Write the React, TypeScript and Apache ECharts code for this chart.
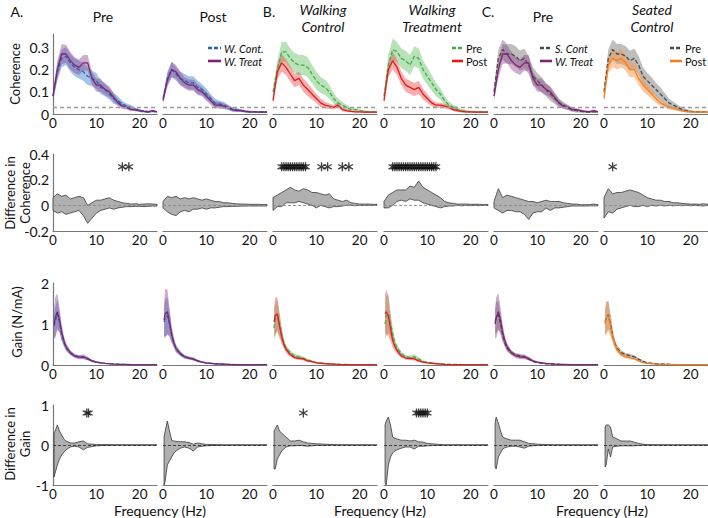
import React, { useEffect, useRef } from "react";
import * as echarts from "echarts";

// ---------------- DATA ----------------
const FREQ_C = [0, 1, 2, 3, 4, 5, 6, 7, 8, 9, 10, 11, 12, 13, 14, 15, 16, 17, 18, 19, 20, 21, 22, 23, 24];
const FREQ_G = [0.25, 0.5, 1, 1.5, 2, 2.5, 3, 4, 5, 6, 7, 8, 9, 10, 12, 14, 16, 18, 20, 22, 24];

const X_TICKS = [0, 10, 20];
const Y_TICKS_COH = [0, 0.1, 0.2, 0.3];
const Y_TICKS_DCOH = [-0.2, 0, 0.2, 0.4];
const Y_TICKS_GAIN = [0, 1, 2];
const Y_TICKS_DGAIN = [-1, 0, 1];

const COH_SIG_LEVEL = 0.03;
const STAR_Y_DCOH = 0.3;
const STAR_Y_DGAIN = 0.8;

// Row 1 – coherence (mean / sd)
const cohPreWCont = [0.08, 0.19, 0.25, 0.26, 0.23, 0.21, 0.2, 0.19, 0.17, 0.16, 0.15, 0.12, 0.11, 0.09, 0.07, 0.06, 0.045, 0.035, 0.03, 0.02, 0.015, 0.012, 0.01, 0.012, 0.01];
const cohPreWContSd = [0.02, 0.04, 0.04, 0.04, 0.04, 0.04, 0.04, 0.04, 0.04, 0.035, 0.035, 0.03, 0.03, 0.025, 0.025, 0.02, 0.015, 0.012, 0.01, 0.008, 0.006, 0.005, 0.005, 0.005, 0.004];
const cohPreWTreat = [0.08, 0.2, 0.27, 0.27, 0.24, 0.22, 0.21, 0.23, 0.23, 0.16, 0.13, 0.13, 0.11, 0.1, 0.075, 0.05, 0.035, 0.03, 0.02, 0.02, 0.015, 0.012, 0.01, 0.015, 0.01];
const cohPreWTreatSd = [0.02, 0.04, 0.045, 0.04, 0.04, 0.035, 0.035, 0.035, 0.035, 0.03, 0.03, 0.03, 0.025, 0.025, 0.02, 0.015, 0.012, 0.01, 0.008, 0.007, 0.006, 0.005, 0.005, 0.005, 0.004];
const cohPostWCont = [0.07, 0.16, 0.2, 0.18, 0.16, 0.15, 0.14, 0.14, 0.12, 0.11, 0.09, 0.07, 0.05, 0.045, 0.04, 0.03, 0.02, 0.02, 0.015, 0.012, 0.01, 0.01, 0.01, 0.008, 0.008];
const cohPostWContSd = [0.015, 0.03, 0.035, 0.03, 0.03, 0.03, 0.03, 0.03, 0.03, 0.025, 0.025, 0.02, 0.02, 0.015, 0.015, 0.012, 0.01, 0.008, 0.006, 0.005, 0.005, 0.004, 0.004, 0.004, 0.004];
const cohPostWTreat = [0.06, 0.15, 0.2, 0.19, 0.16, 0.14, 0.13, 0.13, 0.11, 0.1, 0.08, 0.06, 0.04, 0.04, 0.035, 0.03, 0.02, 0.015, 0.015, 0.012, 0.01, 0.01, 0.008, 0.01, 0.008];
const cohPostWTreatSd = [0.015, 0.03, 0.035, 0.03, 0.03, 0.025, 0.025, 0.025, 0.025, 0.02, 0.02, 0.02, 0.015, 0.015, 0.012, 0.01, 0.008, 0.007, 0.006, 0.005, 0.005, 0.004, 0.004, 0.004, 0.004];
const cohWCtrlPre = [0.1, 0.2, 0.28, 0.28, 0.25, 0.23, 0.22, 0.22, 0.21, 0.18, 0.15, 0.13, 0.12, 0.1, 0.07, 0.05, 0.04, 0.03, 0.02, 0.02, 0.015, 0.012, 0.01, 0.01, 0.01];
const cohWCtrlPreSd = [0.02, 0.04, 0.045, 0.045, 0.045, 0.045, 0.045, 0.045, 0.045, 0.04, 0.04, 0.035, 0.035, 0.03, 0.025, 0.02, 0.015, 0.012, 0.01, 0.008, 0.006, 0.005, 0.005, 0.005, 0.004];
const cohWCtrlPost = [0.06, 0.19, 0.23, 0.21, 0.18, 0.15, 0.16, 0.13, 0.11, 0.09, 0.07, 0.05, 0.04, 0.035, 0.03, 0.04, 0.02, 0.015, 0.012, 0.01, 0.01, 0.008, 0.008, 0.008, 0.008];
const cohWCtrlPostSd = [0.015, 0.035, 0.04, 0.035, 0.035, 0.03, 0.03, 0.03, 0.03, 0.025, 0.02, 0.02, 0.015, 0.012, 0.01, 0.012, 0.008, 0.006, 0.005, 0.004, 0.004, 0.004, 0.004, 0.004, 0.004];
const cohWTrtPre = [0.08, 0.22, 0.29, 0.28, 0.25, 0.24, 0.22, 0.26, 0.25, 0.2, 0.17, 0.14, 0.11, 0.09, 0.06, 0.04, 0.03, 0.02, 0.015, 0.012, 0.01, 0.01, 0.01, 0.01, 0.01];
const cohWTrtPreSd = [0.02, 0.045, 0.05, 0.045, 0.045, 0.045, 0.045, 0.045, 0.045, 0.04, 0.04, 0.035, 0.03, 0.025, 0.02, 0.015, 0.012, 0.01, 0.008, 0.006, 0.005, 0.005, 0.005, 0.004, 0.004];
const cohWTrtPost = [0.06, 0.2, 0.24, 0.21, 0.16, 0.13, 0.12, 0.11, 0.12, 0.09, 0.07, 0.05, 0.04, 0.04, 0.035, 0.03, 0.02, 0.015, 0.012, 0.01, 0.01, 0.008, 0.008, 0.008, 0.008];
const cohWTrtPostSd = [0.015, 0.035, 0.04, 0.035, 0.03, 0.03, 0.03, 0.03, 0.03, 0.025, 0.02, 0.015, 0.012, 0.012, 0.01, 0.01, 0.008, 0.006, 0.005, 0.004, 0.004, 0.004, 0.004, 0.004, 0.004];
const cohSCtrlPre = [0.1, 0.25, 0.29, 0.27, 0.27, 0.26, 0.24, 0.25, 0.22, 0.17, 0.15, 0.13, 0.11, 0.09, 0.07, 0.05, 0.04, 0.03, 0.02, 0.015, 0.012, 0.01, 0.01, 0.01, 0.01];
const cohSCtrlPreSd = [0.02, 0.04, 0.045, 0.045, 0.045, 0.045, 0.045, 0.045, 0.04, 0.04, 0.035, 0.035, 0.03, 0.03, 0.025, 0.02, 0.015, 0.012, 0.01, 0.008, 0.006, 0.005, 0.005, 0.005, 0.004];
const cohSCtrlPost = [0.07, 0.22, 0.25, 0.24, 0.25, 0.23, 0.2, 0.2, 0.16, 0.13, 0.11, 0.09, 0.07, 0.05, 0.04, 0.03, 0.025, 0.02, 0.015, 0.012, 0.01, 0.01, 0.008, 0.01, 0.008];
const cohSCtrlPostSd = [0.015, 0.035, 0.04, 0.04, 0.04, 0.035, 0.035, 0.035, 0.03, 0.03, 0.025, 0.02, 0.02, 0.015, 0.012, 0.01, 0.008, 0.006, 0.005, 0.005, 0.004, 0.004, 0.004, 0.004, 0.004];

// Row 2 – difference in coherence (upper / lower bounds)
const dcohPreUp = [0.06, 0.09, 0.07, 0.08, 0.05, 0.06, 0.07, 0.06, 0.0, 0.02, 0.04, 0.04, 0.05, 0.06, 0.04, 0.03, 0.02, 0.015, 0.01, 0.012, 0.008, 0.01, 0.012, 0.01, 0.008];
const dcohPreLo = [-0.04, -0.06, -0.05, -0.07, -0.06, -0.05, -0.04, -0.08, -0.14, -0.1, -0.06, -0.04, -0.03, -0.02, -0.03, -0.02, -0.015, -0.01, -0.01, -0.008, -0.008, -0.01, -0.008, -0.006, -0.006];
const dcohPostUp = [0.03, 0.07, 0.06, 0.07, 0.05, 0.06, 0.05, 0.06, 0.05, 0.04, 0.05, 0.04, 0.03, 0.03, 0.02, 0.02, 0.015, 0.012, 0.01, 0.01, 0.008, 0.008, 0.008, 0.006, 0.006];
const dcohPostLo = [-0.02, -0.05, -0.07, -0.08, -0.05, -0.04, -0.05, -0.03, -0.03, -0.02, -0.03, -0.02, -0.02, -0.015, -0.01, -0.01, -0.008, -0.008, -0.006, -0.006, -0.005, -0.006, -0.005, -0.005, -0.005];
const dcohWCtrlUp = [0.06, 0.08, 0.1, 0.12, 0.14, 0.12, 0.11, 0.13, 0.12, 0.1, 0.1, 0.09, 0.08, 0.09, 0.05, 0.04, 0.03, 0.04, 0.02, 0.015, 0.01, 0.01, 0.01, 0.008, 0.008];
const dcohWCtrlLo = [-0.04, -0.01, -0.01, 0.02, 0.02, 0.02, 0.03, 0.02, 0.01, 0.0, -0.02, 0.0, -0.01, -0.02, -0.01, -0.01, -0.005, 0.0, 0.0, -0.003, 0.0, -0.002, 0.0, -0.002, 0.0];
const dcohWTrtUp = [0.03, 0.08, 0.1, 0.12, 0.12, 0.12, 0.15, 0.14, 0.19, 0.14, 0.12, 0.1, 0.08, 0.06, 0.03, 0.02, 0.015, 0.01, 0.01, 0.01, 0.008, 0.008, 0.008, 0.006, 0.006];
const dcohWTrtLo = [-0.02, -0.02, 0.0, 0.03, 0.04, 0.03, 0.05, 0.04, 0.04, 0.02, 0.01, 0.0, -0.01, -0.02, -0.01, -0.005, -0.005, 0.0, -0.004, 0.0, -0.003, 0.0, -0.003, 0.0, -0.002];
const dcohCPreUp = [0.03, 0.13, 0.06, 0.08, 0.07, 0.06, 0.05, 0.04, 0.03, 0.03, 0.02, 0.03, 0.04, 0.03, 0.03, 0.03, 0.02, 0.015, 0.01, 0.01, 0.005, 0.005, 0.005, 0.01, 0.005];
const dcohCPreLo = [-0.02, -0.04, -0.06, -0.04, -0.04, -0.05, -0.05, -0.07, -0.11, -0.06, -0.05, -0.05, -0.02, -0.04, -0.02, -0.02, -0.015, -0.01, -0.005, -0.005, -0.005, -0.005, -0.004, -0.004, -0.004];
const dcohSeatUp = [0.06, 0.13, 0.09, 0.1, 0.1, 0.11, 0.12, 0.11, 0.1, 0.08, 0.06, 0.05, 0.04, 0.04, 0.03, 0.03, 0.02, 0.02, 0.015, 0.012, 0.01, 0.01, 0.008, 0.012, 0.008];
const dcohSeatLo = [-0.1, -0.05, -0.06, -0.03, -0.02, -0.01, 0.0, -0.01, -0.01, 0.0, -0.01, 0.0, -0.005, 0.0, -0.005, 0.0, -0.004, 0.0, -0.003, 0.0, -0.003, 0.0, -0.003, -0.005, 0.0];

const starDcohPre = [16, 17.5];
const starDcohPost: number[] = [];
const starDcohWCtrl = [2, 2.5, 3, 3.5, 4, 4.5, 5, 5.5, 6, 6.5, 7, 7.5, 11.2, 12.6, 16, 17.5];
const starDcohWTrt = [2, 2.5, 3, 3.5, 4, 4.5, 5, 5.5, 6, 6.5, 7, 7.5, 8, 8.5, 9, 9.5, 10, 10.5, 11, 11.5, 12];
const starDcohCPre: number[] = [];
const starDcohSeat = [2];

// Row 3 – gain (mean / sd)
const gainPreWCont = [0.95, 1.05, 1.25, 1.05, 0.75, 0.55, 0.42, 0.3, 0.22, 0.2, 0.19, 0.14, 0.1, 0.07, 0.04, 0.025, 0.015, 0.01, 0.01, 0.01, 0.01];
const gainPreWContSd = [0.3, 0.35, 0.35, 0.25, 0.15, 0.1, 0.08, 0.05, 0.04, 0.04, 0.04, 0.03, 0.02, 0.02, 0.01, 0.01, 0.008, 0.005, 0.005, 0.005, 0.005];
const gainPreWTreat = [1.0, 1.15, 1.3, 1.1, 0.8, 0.6, 0.45, 0.3, 0.22, 0.19, 0.2, 0.16, 0.1, 0.07, 0.04, 0.02, 0.015, 0.01, 0.01, 0.01, 0.01];
const gainPreWTreatSd = [0.35, 0.5, 0.45, 0.3, 0.2, 0.12, 0.09, 0.06, 0.05, 0.05, 0.06, 0.04, 0.03, 0.02, 0.01, 0.01, 0.008, 0.005, 0.005, 0.005, 0.005];
const gainPostWCont = [1.05, 1.15, 1.2, 1.0, 0.72, 0.53, 0.4, 0.27, 0.2, 0.17, 0.14, 0.1, 0.07, 0.05, 0.03, 0.02, 0.012, 0.01, 0.01, 0.008, 0.008];
const gainPostWContSd = [0.35, 0.45, 0.45, 0.3, 0.18, 0.1, 0.08, 0.05, 0.04, 0.03, 0.03, 0.02, 0.015, 0.012, 0.01, 0.008, 0.005, 0.005, 0.005, 0.005, 0.005];
const gainPostWTreat = [1.1, 1.25, 1.3, 1.05, 0.75, 0.55, 0.4, 0.28, 0.2, 0.17, 0.15, 0.1, 0.07, 0.05, 0.03, 0.02, 0.01, 0.01, 0.008, 0.008, 0.008];
const gainPostWTreatSd = [0.4, 0.6, 0.55, 0.35, 0.2, 0.12, 0.09, 0.06, 0.04, 0.04, 0.04, 0.03, 0.02, 0.015, 0.01, 0.008, 0.005, 0.005, 0.005, 0.005, 0.005];
const gainWCtrlPre = [0.9, 1.1, 1.2, 1.0, 0.75, 0.55, 0.42, 0.3, 0.22, 0.2, 0.16, 0.12, 0.09, 0.06, 0.04, 0.02, 0.015, 0.01, 0.01, 0.01, 0.01];
const gainWCtrlPreSd = [0.3, 0.4, 0.4, 0.3, 0.18, 0.1, 0.08, 0.05, 0.05, 0.05, 0.04, 0.03, 0.02, 0.015, 0.01, 0.008, 0.005, 0.005, 0.005, 0.005, 0.005];
const gainWCtrlPost = [1.05, 1.2, 1.25, 0.95, 0.7, 0.5, 0.38, 0.25, 0.18, 0.16, 0.15, 0.1, 0.08, 0.05, 0.03, 0.02, 0.01, 0.01, 0.008, 0.008, 0.008];
const gainWCtrlPostSd = [0.35, 0.45, 0.4, 0.3, 0.18, 0.1, 0.08, 0.05, 0.04, 0.04, 0.04, 0.03, 0.02, 0.015, 0.01, 0.008, 0.005, 0.005, 0.005, 0.005, 0.005];
const gainWTrtPre = [1.0, 1.2, 1.25, 1.0, 0.75, 0.55, 0.42, 0.28, 0.2, 0.18, 0.2, 0.15, 0.09, 0.06, 0.04, 0.02, 0.015, 0.01, 0.01, 0.01, 0.01];
const gainWTrtPreSd = [0.35, 0.5, 0.45, 0.3, 0.18, 0.1, 0.08, 0.05, 0.04, 0.05, 0.06, 0.04, 0.02, 0.015, 0.01, 0.008, 0.005, 0.005, 0.005, 0.005, 0.005];
const gainWTrtPost = [1.25, 1.3, 1.2, 0.9, 0.6, 0.45, 0.35, 0.22, 0.17, 0.16, 0.15, 0.1, 0.07, 0.05, 0.03, 0.015, 0.01, 0.01, 0.008, 0.008, 0.008];
const gainWTrtPostSd = [0.45, 0.55, 0.5, 0.3, 0.18, 0.1, 0.08, 0.05, 0.04, 0.04, 0.04, 0.03, 0.02, 0.015, 0.01, 0.008, 0.005, 0.005, 0.005, 0.005, 0.005];
const gainSCtrlPre = [1.05, 1.15, 1.22, 1.0, 0.72, 0.53, 0.41, 0.3, 0.25, 0.23, 0.2, 0.14, 0.09, 0.055, 0.03, 0.02, 0.012, 0.01, 0.01, 0.01, 0.01];
const gainSCtrlPreSd = [0.3, 0.38, 0.35, 0.25, 0.15, 0.1, 0.08, 0.055, 0.045, 0.045, 0.04, 0.03, 0.02, 0.015, 0.01, 0.008, 0.005, 0.005, 0.005, 0.005, 0.005];
const gainSCtrlPost = [1.0, 1.15, 1.2, 0.95, 0.7, 0.5, 0.38, 0.25, 0.2, 0.18, 0.15, 0.1, 0.06, 0.04, 0.02, 0.015, 0.01, 0.008, 0.008, 0.008, 0.008];
const gainSCtrlPostSd = [0.3, 0.4, 0.35, 0.25, 0.15, 0.1, 0.07, 0.05, 0.04, 0.04, 0.03, 0.02, 0.015, 0.01, 0.008, 0.005, 0.005, 0.005, 0.005, 0.005, 0.005];

// Row 4 – difference in gain (upper / lower bounds)
const dgainPreUp = [0.3, 0.35, 0.5, 0.35, 0.25, 0.15, 0.1, 0.05, 0.05, 0.08, 0.1, 0.03, 0.02, 0.01, 0.01, 0.008, 0.005, 0.005, 0.004, 0.004, 0.004];
const dgainPreLo = [-0.8, -0.7, -0.5, -0.35, -0.25, -0.18, -0.12, -0.05, -0.03, -0.05, -0.12, -0.06, -0.04, -0.02, -0.01, -0.008, -0.005, -0.005, -0.004, -0.004, -0.004];
const dgainPostUp = [0.2, 0.35, 0.6, 0.35, 0.12, 0.1, 0.09, 0.08, 0.08, 0.06, 0.02, 0.05, 0.03, 0.015, 0.01, 0.005, 0.005, 0.004, 0.004, 0.004, 0.004];
const dgainPostLo = [-1.0, -0.9, -0.5, -0.4, -0.3, -0.2, -0.15, -0.08, -0.05, -0.08, -0.15, -0.05, -0.03, -0.02, -0.01, -0.008, -0.005, -0.005, -0.004, -0.004, -0.004];
const dgainWCtrlUp = [0.35, 0.4, 0.5, 0.35, 0.3, 0.25, 0.2, 0.1, 0.1, 0.12, 0.08, 0.05, 0.04, 0.03, 0.02, 0.01, 0.005, 0.005, 0.004, 0.004, 0.004];
const dgainWCtrlLo = [-0.6, -0.6, -0.35, -0.25, -0.15, -0.1, -0.05, -0.02, -0.02, -0.01, -0.02, -0.03, -0.02, -0.01, -0.01, -0.005, -0.004, -0.004, -0.004, -0.004, -0.004];
const dgainWTrtUp = [0.5, 0.6, 0.7, 0.5, 0.2, 0.17, 0.15, 0.12, 0.12, 0.1, 0.12, 0.08, 0.07, 0.04, 0.02, 0.005, 0.005, 0.004, 0.004, 0.004, 0.004];
const dgainWTrtLo = [-0.95, -1.0, -0.5, -0.3, -0.2, -0.15, -0.12, -0.08, -0.05, -0.05, -0.1, -0.03, -0.03, -0.02, -0.01, -0.005, -0.004, -0.004, -0.004, -0.004, -0.004];
const dgainCPreUp = [0.55, 0.7, 0.55, 0.35, 0.2, 0.17, 0.15, 0.12, 0.12, 0.12, 0.08, 0.04, 0.03, 0.02, 0.01, 0.005, 0.005, 0.004, 0.004, 0.004, 0.004];
const dgainCPreLo = [-0.55, -0.6, -0.3, -0.2, -0.1, -0.07, -0.05, -0.03, -0.03, -0.05, -0.08, -0.03, -0.02, -0.01, -0.005, -0.004, -0.004, -0.004, -0.004, -0.004, -0.004];
const dgainSeatUp = [0.45, 0.5, 0.5, 0.45, 0.2, 0.18, 0.15, 0.1, 0.1, 0.1, 0.07, 0.04, 0.02, 0.01, 0.005, 0.005, 0.004, 0.004, 0.004, 0.004, 0.004];
const dgainSeatLo = [-0.55, -0.5, -0.1, -0.3, -0.05, -0.04, -0.03, -0.02, -0.02, -0.02, -0.02, -0.01, -0.008, -0.005, -0.004, -0.004, -0.004, -0.004, -0.004, -0.004, -0.004];

const starDgainPre = [7.8, 8.2];
const starDgainPost: number[] = [];
const starDgainWCtrl = [7];
const starDgainWTrt = [7.5, 8, 8.5, 9, 9.5, 10];
const starDgainCPre: number[] = [];
const starDgainSeat: number[] = [];

// ---------------- STYLE / LAYOUT ----------------
const FONT = 'Lato, "Open Sans", sans-serif';
const C_BLUE = "#2563ad", F_BLUE = "rgba(74,140,210,0.5)";
const C_PURPLE = "#7b2573", F_PURPLE = "rgba(140,60,135,0.42)";
const C_GREEN = "#3fae49", F_GREEN = "rgba(100,190,100,0.45)";
const C_RED = "#e31a1c", F_RED = "rgba(235,75,75,0.45)";
const C_GRAY = "#4a4a4a", F_GRAY = "rgba(100,100,100,0.42)";
const C_ORANGE = "#f47f20", F_ORANGE = "rgba(247,150,70,0.5)";
const F_DIFF = "#b0b0b0";

const COL_LEFT = [53, 163, 273, 384, 494, 604];
const COL_W = 104;
const ROW_BOX = [
  [34, 80],
  [154, 77],
  [283, 82],
  [405, 80],
];

type Grp = { m: number[]; s: number[]; c: string; f: string; dashed: boolean };

const cohPanels: Grp[][] = [
  [
    { m: cohPreWCont, s: cohPreWContSd, c: C_BLUE, f: F_BLUE, dashed: true },
    { m: cohPreWTreat, s: cohPreWTreatSd, c: C_PURPLE, f: F_PURPLE, dashed: false },
  ],
  [
    { m: cohPostWCont, s: cohPostWContSd, c: C_BLUE, f: F_BLUE, dashed: true },
    { m: cohPostWTreat, s: cohPostWTreatSd, c: C_PURPLE, f: F_PURPLE, dashed: false },
  ],
  [
    { m: cohWCtrlPre, s: cohWCtrlPreSd, c: C_GREEN, f: F_GREEN, dashed: true },
    { m: cohWCtrlPost, s: cohWCtrlPostSd, c: C_RED, f: F_RED, dashed: false },
  ],
  [
    { m: cohWTrtPre, s: cohWTrtPreSd, c: C_GREEN, f: F_GREEN, dashed: true },
    { m: cohWTrtPost, s: cohWTrtPostSd, c: C_RED, f: F_RED, dashed: false },
  ],
  [
    { m: cohSCtrlPre, s: cohSCtrlPreSd, c: C_GRAY, f: F_GRAY, dashed: true },
    { m: cohPreWTreat, s: cohPreWTreatSd, c: C_PURPLE, f: F_PURPLE, dashed: false },
  ],
  [
    { m: cohSCtrlPre, s: cohSCtrlPreSd, c: C_GRAY, f: F_GRAY, dashed: true },
    { m: cohSCtrlPost, s: cohSCtrlPostSd, c: C_ORANGE, f: F_ORANGE, dashed: false },
  ],
];

const gainPanels: Grp[][] = [
  [
    { m: gainPreWCont, s: gainPreWContSd, c: C_BLUE, f: F_BLUE, dashed: true },
    { m: gainPreWTreat, s: gainPreWTreatSd, c: C_PURPLE, f: F_PURPLE, dashed: false },
  ],
  [
    { m: gainPostWCont, s: gainPostWContSd, c: C_BLUE, f: F_BLUE, dashed: true },
    { m: gainPostWTreat, s: gainPostWTreatSd, c: C_PURPLE, f: F_PURPLE, dashed: false },
  ],
  [
    { m: gainWCtrlPre, s: gainWCtrlPreSd, c: C_GREEN, f: F_GREEN, dashed: true },
    { m: gainWCtrlPost, s: gainWCtrlPostSd, c: C_RED, f: F_RED, dashed: false },
  ],
  [
    { m: gainWTrtPre, s: gainWTrtPreSd, c: C_GREEN, f: F_GREEN, dashed: true },
    { m: gainWTrtPost, s: gainWTrtPostSd, c: C_RED, f: F_RED, dashed: false },
  ],
  [
    { m: gainSCtrlPre, s: gainSCtrlPreSd, c: C_GRAY, f: F_GRAY, dashed: true },
    { m: gainPreWTreat, s: gainPreWTreatSd, c: C_PURPLE, f: F_PURPLE, dashed: false },
  ],
  [
    { m: gainSCtrlPre, s: gainSCtrlPreSd, c: C_GRAY, f: F_GRAY, dashed: true },
    { m: gainSCtrlPost, s: gainSCtrlPostSd, c: C_ORANGE, f: F_ORANGE, dashed: false },
  ],
];

const dcohPanels = [
  { up: dcohPreUp, lo: dcohPreLo, stars: starDcohPre },
  { up: dcohPostUp, lo: dcohPostLo, stars: starDcohPost },
  { up: dcohWCtrlUp, lo: dcohWCtrlLo, stars: starDcohWCtrl },
  { up: dcohWTrtUp, lo: dcohWTrtLo, stars: starDcohWTrt },
  { up: dcohCPreUp, lo: dcohCPreLo, stars: starDcohCPre },
  { up: dcohSeatUp, lo: dcohSeatLo, stars: starDcohSeat },
];
const dgainPanels = [
  { up: dgainPreUp, lo: dgainPreLo, stars: starDgainPre },
  { up: dgainPostUp, lo: dgainPostLo, stars: starDgainPost },
  { up: dgainWCtrlUp, lo: dgainWCtrlLo, stars: starDgainWCtrl },
  { up: dgainWTrtUp, lo: dgainWTrtLo, stars: starDgainWTrt },
  { up: dgainCPreUp, lo: dgainCPreLo, stars: starDgainCPre },
  { up: dgainSeatUp, lo: dgainSeatLo, stars: starDgainSeat },
];

const ASTERISK =
  "path://M-1.4,-10L1.4,-10L1.4,-2.4L8,-6.3L9.4,-3.9L2.8,0L9.4,3.9L8,6.3L1.4,2.4L1.4,10L-1.4,10L-1.4,2.4L-8,6.3L-9.4,3.9L-2.8,0L-9.4,-3.9L-8,-6.3L-1.4,-2.4Z";

function labelFmt(list: number[]) {
  return (v: number) => {
    const r = Math.round(v * 1000) / 1000;
    return list.some((l) => Math.abs(l - r) < 1e-6) ? String(r) : "";
  };
}

function bandSeries(gi: number, xs: number[], lo: number[], hi: number[], fill: string, stroke?: string) {
  return {
    type: "custom",
    xAxisIndex: gi,
    yAxisIndex: gi,
    silent: true,
    z: 1,
    data: [[xs[0], lo[0]]],
    renderItem: (_p: any, api: any) => {
      const pts: number[][] = [];
      for (let i = 0; i < xs.length; i++) pts.push(api.coord([xs[i], hi[i]]));
      for (let i = xs.length - 1; i >= 0; i--) pts.push(api.coord([xs[i], lo[i]]));
      const style: any = { fill };
      if (stroke) {
        style.stroke = stroke;
        style.lineWidth = 0.8;
      }
      return { type: "polygon", shape: { points: pts }, style };
    },
  };
}

function lineSeries(gi: number, xs: number[], ys: number[], color: string, dashed: boolean) {
  return {
    type: "line",
    xAxisIndex: gi,
    yAxisIndex: gi,
    silent: true,
    symbol: "none",
    z: dashed ? 2 : 3,
    data: xs.map((x, i) => [x, ys[i]]),
    lineStyle: { color, width: 1.3, type: dashed ? [4, 2] : "solid" },
  };
}

function refLine(gi: number, y: number, color: string, width: number, dash: number[]) {
  return {
    type: "line",
    xAxisIndex: gi,
    yAxisIndex: gi,
    silent: true,
    symbol: "none",
    data: [],
    z: 2,
    markLine: {
      silent: true,
      symbol: "none",
      animation: false,
      label: { show: false },
      lineStyle: { color, width, type: dash },
      data: [{ yAxis: y }],
    },
  };
}

function starSeries(gi: number, xs: number[], y: number) {
  return {
    type: "scatter",
    xAxisIndex: gi,
    yAxisIndex: gi,
    silent: true,
    symbol: ASTERISK,
    symbolSize: 9,
    z: 5,
    itemStyle: { color: "#111" },
    data: xs.map((x) => [x, y]),
  };
}

function txt(text: string, x: number, y: number, opts: any = {}) {
  const { size = 14, italic = false, rot = 0, align = "center" } = opts;
  return {
    type: "text",
    x,
    y,
    rotation: rot,
    silent: true,
    style: {
      text,
      fill: "#111",
      fontSize: size,
      fontFamily: FONT,
      fontStyle: italic ? "italic" : "normal",
      align,
      verticalAlign: "middle",
      textAlign: align,
      textVerticalAlign: "middle",
    },
  };
}

function legendItem(x1: number, x2: number, y: number, color: string, dashed: boolean, label: string, italic: boolean) {
  return [
    {
      type: "line",
      silent: true,
      shape: { x1, y1: y, x2, y2: y },
      style: { stroke: color, lineWidth: 2.6, lineDash: dashed ? [4, 2] : null },
    },
    txt(label, x2 + 3, y, { size: 11, italic, align: "left" }),
  ];
}

function buildOption() {
  const grid: any[] = [];
  const xAxis: any[] = [];
  const yAxis: any[] = [];
  const series: any[] = [];
  const yCfg = [
    { min: 0, max: 0.36, interval: 0.1, ticks: Y_TICKS_COH },
    { min: -0.2, max: 0.4, interval: 0.2, ticks: Y_TICKS_DCOH },
    { min: 0, max: 2, interval: 1, ticks: Y_TICKS_GAIN },
    { min: -1, max: 1, interval: 1, ticks: Y_TICKS_DGAIN },
  ];
  for (let r = 0; r < 4; r++) {
    for (let c = 0; c < 6; c++) {
      const gi = r * 6 + c;
      grid.push({ left: COL_LEFT[c], top: ROW_BOX[r][0], width: COL_W, height: ROW_BOX[r][1] });
      xAxis.push({
        gridIndex: gi,
        type: "value",
        min: 0,
        max: 24,
        interval: 10,
        axisLine: { onZero: false, lineStyle: { color: "#777", width: 1.2 } },
        axisTick: { show: false },
        splitLine: { show: false },
        axisLabel: {
          customValues: X_TICKS,
          formatter: labelFmt(X_TICKS),
          fontSize: 13.5,
          fontFamily: FONT,
          color: "#111",
          margin: 2,
        },
      });
      const yc = yCfg[r];
      yAxis.push({
        gridIndex: gi,
        type: "value",
        min: yc.min,
        max: yc.max,
        interval: yc.interval,
        show: c === 0,
        axisLine: { show: true, lineStyle: { color: "#777", width: 1.2 } },
        axisTick: { show: false },
        splitLine: { show: false },
        axisLabel: {
          customValues: yc.ticks,
          formatter: labelFmt(yc.ticks),
          fontSize: 14,
          fontFamily: FONT,
          color: "#111",
          margin: 4,
        },
      });
    }
  }

  // Row 1: coherence
  cohPanels.forEach((grps, c) => {
    const gi = c;
    grps.forEach((g) => {
      const lo = g.m.map((v, i) => Math.max(0, v - g.s[i]));
      const hi = g.m.map((v, i) => v + g.s[i]);
      series.push(bandSeries(gi, FREQ_C, lo, hi, g.f));
    });
    series.push(refLine(gi, COH_SIG_LEVEL, "#9a9a9a", 1.3, [4, 3]));
    grps.forEach((g) => series.push(lineSeries(gi, FREQ_C, g.m, g.c, g.dashed)));
  });

  // Row 2: difference in coherence
  dcohPanels.forEach((p, c) => {
    const gi = 6 + c;
    series.push(bandSeries(gi, FREQ_C, p.lo, p.up, F_DIFF, "#3a3a3a"));
    series.push(refLine(gi, 0, "#8a8a8a", 0.9, [3, 2]));
    if (p.stars.length) series.push(starSeries(gi, p.stars, STAR_Y_DCOH));
  });

  // Row 3: gain
  gainPanels.forEach((grps, c) => {
    const gi = 12 + c;
    grps.forEach((g) => {
      const lo = g.m.map((v, i) => Math.max(0, v - g.s[i]));
      const hi = g.m.map((v, i) => v + g.s[i]);
      series.push(bandSeries(gi, FREQ_G, lo, hi, g.f));
    });
    grps.forEach((g) => series.push(lineSeries(gi, FREQ_G, g.m, g.c, g.dashed)));
  });

  // Row 4: difference in gain
  dgainPanels.forEach((p, c) => {
    const gi = 18 + c;
    series.push(bandSeries(gi, FREQ_G, p.lo, p.up, F_DIFF, "#3a3a3a"));
    series.push(refLine(gi, 0, "#333", 0.9, [3, 2]));
    if (p.stars.length) series.push(starSeries(gi, p.stars, STAR_Y_DGAIN));
  });

  const R = Math.PI / 2;
  const graphic: any[] = [
    txt("A.", 17, 11, { size: 14 }),
    txt("B.", 269, 11, { size: 14 }),
    txt("C.", 488, 11, { size: 14 }),
    txt("Pre", 103, 16, { size: 14 }),
    txt("Post", 213, 16, { size: 14 }),
    txt("Walking", 323, 9, { size: 14, italic: true }),
    txt("Control", 323, 26, { size: 14, italic: true }),
    txt("Walking", 432, 9, { size: 14, italic: true }),
    txt("Treatment", 432, 26, { size: 14, italic: true }),
    txt("Pre", 543, 16, { size: 14 }),
    txt("Seated", 652, 9, { size: 14, italic: true }),
    txt("Control", 652, 26, { size: 14, italic: true }),
    txt("Coherence", 15, 74, { size: 13, rot: R }),
    txt("Difference in", 10, 193, { size: 13, rot: R }),
    txt("Coherence", 25, 193, { size: 13, rot: R }),
    txt("Gain (N/mA)", 17, 322, { size: 13, rot: R }),
    txt("Difference in", 10, 444, { size: 13, rot: R }),
    txt("Gain", 25, 444, { size: 13, rot: R }),
    txt("Frequency (Hz)", 160, 510, { size: 14 }),
    txt("Frequency (Hz)", 380, 510, { size: 14 }),
    txt("Frequency (Hz)", 602, 510, { size: 14 }),
    ...legendItem(208, 221, 48, C_BLUE, true, "W. Cont.", true),
    ...legendItem(208, 221, 61, C_PURPLE, false, "W. Treat", true),
    ...legendItem(452, 463, 48, C_GREEN, true, "Pre", false),
    ...legendItem(452, 463, 61, C_RED, false, "Post", false),
    ...legendItem(540, 552, 48, C_GRAY, true, "S. Cont", true),
    ...legendItem(540, 552, 61, C_PURPLE, false, "W. Treat", true),
    ...legendItem(670, 682, 48, C_GRAY, true, "Pre", false),
    ...legendItem(670, 682, 61, C_ORANGE, false, "Post", false),
  ];

  return {
    animation: false,
    backgroundColor: "#ffffff",
    textStyle: { fontFamily: FONT },
    grid,
    xAxis,
    yAxis,
    series,
    graphic,
  };
}

export default function App() {
  const ref = useRef<HTMLDivElement>(null);
  useEffect(() => {
    if (!ref.current) return;
    const chart = echarts.init(ref.current, undefined, { renderer: "svg" });
    chart.setOption(buildOption() as any);
    return () => {
      chart.dispose();
    };
  }, []);
  return (
    <div
      ref={ref}
      style={{ position: "fixed", left: 0, top: 0, width: 708, height: 518, background: "#fff" }}
    />
  );
}
